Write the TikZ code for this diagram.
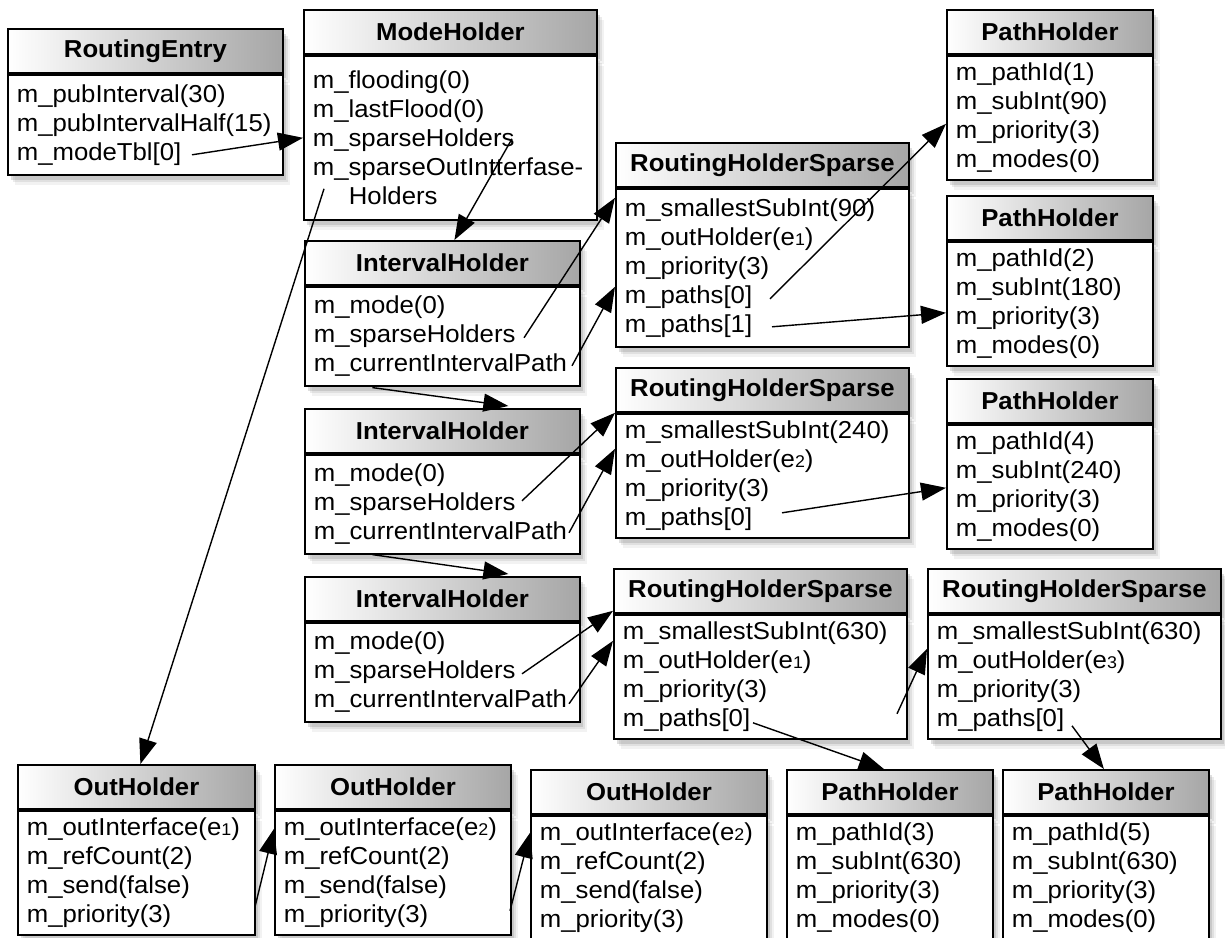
\documentclass[tikz,border=0pt]{standalone}
\usepackage{fontspec}
\setmainfont{Liberation Sans}[FakeStretch=1.05]
\usepackage{tikz}
\usetikzlibrary{calc}
\usetikzlibrary{positioning}
\usetikzlibrary{arrows.meta}
\usetikzlibrary{shadows}

\newcommand{\smallnum}[1]{{\fontsize{17}{17}\selectfont #1}}

\tikzset{
  boxshadow/.style={drop shadow={shadow xshift=7pt,shadow yshift=-10pt,opacity=0.10},
    drop shadow={shadow xshift=5pt,shadow yshift=-7.5pt,opacity=0.16},
    drop shadow={shadow xshift=3pt,shadow yshift=-5pt,opacity=0.25}},
  head/.style={draw,line width=1.8pt,anchor=north west,minimum width=#1,minimum height=44pt,inner sep=0pt,
    left color=white,right color=black!35,font=\bfseries\fontsize{24.5}{29}\selectfont,boxshadow},
  body/.style={draw,line width=1.8pt,fill=white,align=left,text width=#1,inner xsep=9pt,inner ysep=0pt,
    font=\fontsize{24.5}{29}\selectfont,boxshadow},
  ref/.style={line width=1.4pt,-{Triangle[length=25pt,width=18pt]}}
}

\begin{document}
\begin{tikzpicture}[x=1pt,y=-1pt]
        \useasboundingbox (0,0) rectangle (1225,937);
        % top left
        \node[head=275pt] (re) at (7,28) {RoutingEntry};
        \node[body=257pt,minimum height=100pt,below=0pt of re] (reb) {m\_pubInterval(30)\\m\_pubIntervalHalf(15)\\m\_modeTbl[0]};
        \node[head=293pt] (mh) at (303,9) {ModeHolder};
        \node[body=275pt,minimum height=164pt,below=0pt of mh] (mhb) {m\_flooding(0)\\m\_lastFlood(0)\\m\_sparseHolders\\m\_sparseOutIntterfase-\\\hspace*{36pt}Holders};
        % interval holders
        \node[head=275pt] (ih1) at (304,240) {IntervalHolder};
        \node[body=257pt,minimum height=99pt,below=0pt of ih1] (ih1b) {m\_mode(0)\\m\_sparseHolders\\m\_currentIntervalPath};
        \node[head=275pt] (ih2) at (304,408) {IntervalHolder};
        \node[body=257pt,minimum height=99pt,below=0pt of ih2] (ih2b) {m\_mode(0)\\m\_sparseHolders\\m\_currentIntervalPath};
        \node[head=275pt] (ih3) at (304,576) {IntervalHolder};
        \node[body=257pt,minimum height=99pt,below=0pt of ih3] (ih3b) {m\_mode(0)\\m\_sparseHolders\\m\_currentIntervalPath};
        % sparse holders
        \node[head=293pt] (rhs1) at (615,142) {RoutingHolderSparse};
        \node[body=275pt,minimum height=158pt,below=0pt of rhs1] (rhs1b) {m\_smallestSubInt(90)\\m\_outHolder(e\smallnum{1})\\m\_priority(3)\\m\_paths[0]\\m\_paths[1]};
        \node[head=293pt] (rhs2) at (615,367) {RoutingHolderSparse};
        \node[body=275pt,minimum height=124pt,below=0pt of rhs2] (rhs2b) {m\_smallestSubInt(240)\\m\_outHolder(e\smallnum{2})\\m\_priority(3)\\m\_paths[0]};
        \node[head=293pt] (rhs3) at (613,568) {RoutingHolderSparse};
        \node[body=275pt,minimum height=124pt,below=0pt of rhs3] (rhs3b) {m\_smallestSubInt(630)\\m\_outHolder(e\smallnum{1})\\m\_priority(3)\\m\_paths[0]};
        \node[head=293pt] (rhs4) at (927,568) {RoutingHolderSparse};
        \node[body=275pt,minimum height=124pt,below=0pt of rhs4] (rhs4b) {m\_smallestSubInt(630)\\m\_outHolder(e\smallnum{3})\\m\_priority(3)\\m\_paths[0]};
        % path holders
        \node[head=206pt] (ph1) at (946,9) {PathHolder};
        \node[body=188pt,minimum height=124pt,below=0pt of ph1] (ph1b) {m\_pathId(1)\\m\_subInt(90)\\m\_priority(3)\\m\_modes(0)};
        \node[head=206pt] (ph2) at (946,195) {PathHolder};
        \node[body=188pt,minimum height=124pt,below=0pt of ph2] (ph2b) {m\_pathId(2)\\m\_subInt(180)\\m\_priority(3)\\m\_modes(0)};
        \node[head=206pt] (ph3) at (946,378) {PathHolder};
        \node[body=188pt,minimum height=124pt,below=0pt of ph3] (ph3b) {m\_pathId(4)\\m\_subInt(240)\\m\_priority(3)\\m\_modes(0)};
        \node[head=206pt] (ph4) at (786,769) {PathHolder};
        \node[body=188pt,minimum height=124pt,below=0pt of ph4] (ph4b) {m\_pathId(3)\\m\_subInt(630)\\m\_priority(3)\\m\_modes(0)};
        \node[head=206pt] (ph5) at (1002,769) {PathHolder};
        \node[body=188pt,minimum height=124pt,below=0pt of ph5] (ph5b) {m\_pathId(5)\\m\_subInt(630)\\m\_priority(3)\\m\_modes(0)};
        % out holders
        \node[head=237pt] (oh1) at (17,764) {OutHolder};
        \node[body=219pt,minimum height=124pt,below=0pt of oh1] (oh1b) {m\_outInterface(e\smallnum{1})\\m\_refCount(2)\\m\_send(false)\\m\_priority(3)};
        \node[head=236pt] (oh2) at (274,764) {OutHolder};
        \node[body=218pt,minimum height=124pt,below=0pt of oh2] (oh2b) {m\_outInterface(e\smallnum{2})\\m\_refCount(2)\\m\_send(false)\\m\_priority(3)};
        \node[head=236pt] (oh3) at (530,769) {OutHolder};
        \node[body=218pt,minimum height=124pt,below=0pt of oh3] (oh3b) {m\_outInterface(e\smallnum{2})\\m\_refCount(2)\\m\_send(false)\\m\_priority(3)};

        % pointer start points
        \coordinate (tbl) at ($(reb.north west)+(185,81)$);
        \coordinate (mhsparse) at ($(mhb.north west)+(209,84)$);
        \coordinate (mhout) at ($(mhb.north west)+(21,134)$);
        \coordinate (ih1sparse) at ($(ih1b.north west)+(220,52)$);
        \coordinate (ih1path) at ($(ih1b.north west)+(268,80)$);
        \coordinate (ih1next) at ($(ih1b.south)+(-70,1)$);
        \coordinate (ih2sparse) at ($(ih2b.north west)+(218,47)$);
        \coordinate (ih2path) at ($(ih2b.north west)+(265,79)$);
        \coordinate (ih2next) at ($(ih2b.south)+(-70,0)$);
        \coordinate (ih3sparse) at ($(ih3b.north west)+(218,52)$);
        \coordinate (ih3path) at ($(ih3b.north west)+(265,82)$);
        \coordinate (rhs1p0) at ($(rhs1b.north west)+(155,111)$);
        \coordinate (rhs1p1) at ($(rhs1b.north west)+(157,139)$);
        \coordinate (rhs2p0) at ($(rhs2b.north west)+(167,100)$);
        \coordinate (rhs3p0) at ($(rhs3b.north west)+(140,109)$);
        \coordinate (rhs3next) at ($(rhs3b.north west)+(284,100)$);
        \coordinate (rhs4p0) at ($(rhs4b.north west)+(145,112)$);
        \coordinate (oh1next) at ($(oh1b.north west)+(238,97)$);
        \coordinate (oh2next) at ($(oh2b.north west)+(236,101)$);

        \draw[ref] (tbl) -- ($(mhb.north west)+(0,83)$);
        \draw[ref] (mhsparse) -- ($(ih1.north)+(12,0)$);
        \draw[ref] (mhout) -- ($(oh1.north)+(4,0)$);
        \draw[ref] (ih1sparse) -- ($(rhs1b.north west)+(0,10)$);
        \draw[ref] (ih1path) -- ($(rhs1b.north west)+(0,99)$);
        \draw[ref] (ih1next) -- ($(ih2.north)+(66,-2)$);
        \draw[ref] (ih2sparse) -- (rhs2b.north west);
        \draw[ref] (ih2path) -- ($(rhs2b.north west)+(0,36)$);
        \draw[ref] (ih2next) -- ($(ih3.north)+(66,-2)$);
        \draw[ref] (ih3sparse) -- ($(rhs3b.north west)+(0,-3)$);
        \draw[ref] (ih3path) -- ($(rhs3b.north west)+(0,27)$);
        \draw[ref] (rhs1p0) -- ($(ph1b.north west)+(0,69)$);
        \draw[ref] (rhs1p1) -- ($(ph2b.north west)+(0,72)$);
        \draw[ref] (rhs2p0) -- ($(ph3b.north west)+(0,64)$);
        \draw[ref] (rhs3p0) -- ($(ph4.north)+(-6,0)$);
        \draw[ref] (rhs3next) -- ($(rhs4b.north west)+(0,35)$);
        \draw[ref] (rhs4p0) -- ($(ph5.north)+(-2,0)$);
        \draw[ref] (oh1next) -- ($(oh2b.north west)+(0,19)$);
        \draw[ref] (oh2next) -- ($(oh3b.north west)+(0,18)$);
    \end{tikzpicture}
\end{document}
